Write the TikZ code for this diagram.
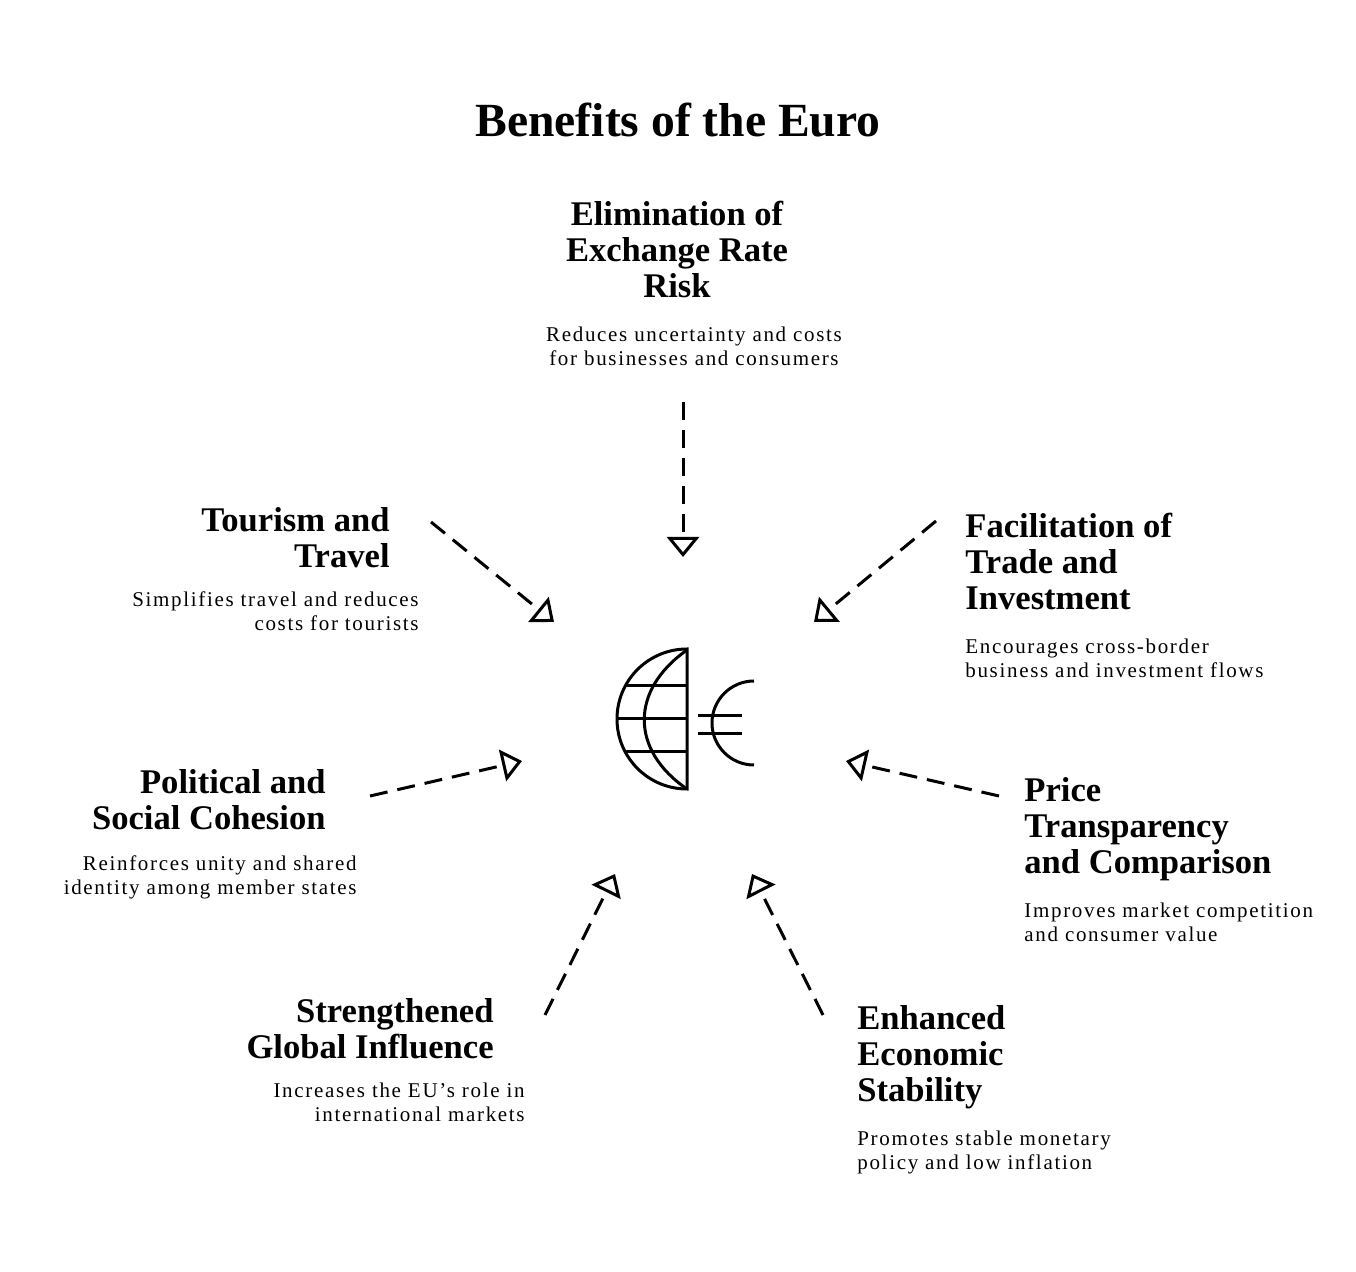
\documentclass[tikz,border=0pt]{standalone}
\usepackage{fontspec}
\setmainfont{Liberation Serif}
\usetikzlibrary{arrows.meta}
\tikzset{
    head/.style = {font=\fontsize{17.3}{18}\selectfont\bfseries, inner sep=0pt},
    desc/.style = {font=\fontsize{10.5}{12}\selectfont\addfontfeature{LetterSpace=8}, inner sep=0pt},
    link/.style = {line width=1.5pt, dash pattern=on 9pt off 5pt, -{Triangle[open,length=10pt,width=16pt,line width=1.5pt]}},
    icon/.style = {line width=1.5pt}
}
\begin{document}
\begin{tikzpicture}[x=0.5pt,y=-0.5pt]
    \useasboundingbox (0,0) rectangle (1356,1272);
    \node [font=\fontsize{23.8}{26}\selectfont\bfseries] (title) at (678,120) {Benefits of the Euro};

    % headings and descriptions
    \node [head, align=center, anchor=north] (exch) at (677,201) {Elimination of\\Exchange Rate\\Risk};
    \node [desc, align=center, anchor=north] (exchd) at (694,327) {Reduces uncertainty and costs\\for businesses and consumers};
    \node [head, align=right, anchor=north east] (tour) at (390,507) {Tourism and\\Travel};
    \node [desc, align=right, anchor=north east] (tourd) at (419,591) {Simplifies travel and reduces\\costs for tourists};
    \node [head, align=left, anchor=north west] (trade) at (965,513) {Facilitation of\\Trade and\\Investment};
    \node [desc, align=left, anchor=north west] (traded) at (965,639) {Encourages cross-border\\business and investment flows};
    \node [head, align=right, anchor=north east] (pol) at (326,769) {Political and\\Social Cohesion};
    \node [desc, align=right, anchor=north east] (pold) at (357,855) {Reinforces unity and shared\\identity among member states};
    \node [head, align=left, anchor=north west] (price) at (1024,777) {Price\\Transparency\\and Comparison};
    \node [desc, align=left, anchor=north west] (priced) at (1024,903) {Improves market competition\\and consumer value};
    \node [head, align=right, anchor=north east] (glob) at (494,998) {Strengthened\\Global Influence};
    \node [desc, align=right, anchor=north east] (globd) at (525,1083) {Increases the EU's role in\\international markets};
    \node [head, align=left, anchor=north west] (stab) at (857,1005) {Enhanced\\Economic\\Stability};
    \node [desc, align=left, anchor=north west] (stabd) at (857,1131) {Promotes stable monetary\\policy and low inflation};

    % globe and euro sign
    \draw [icon] (687,789) arc (90:270:70) -- cycle;
    \draw [icon] (687,650) .. controls (630,690) and (630,750) .. (687,789);
    \draw [icon] (617,719) -- (687,719);
    \draw [icon] (626,686) -- (687,686);
    \draw [icon] (626,752) -- (687,752);
    \draw [icon] (754,765) arc (90:270:42);
    \draw [icon] (698,716) -- (742,716);
    \draw [icon] (698,734) -- (742,734);

    % arrows
    \coordinate (e1) at (683,402);   \coordinate (e2) at (683,557);
    \coordinate (t1) at (431,522);   \coordinate (t2) at (554,622);
    \coordinate (f1) at (936,521);   \coordinate (f2) at (814,622);
    \coordinate (p1) at (370,796);   \coordinate (p2) at (522,761);
    \coordinate (r1) at (999,796);   \coordinate (r2) at (846,761);
    \coordinate (g1) at (545,1015);  \coordinate (g2) at (615,874);
    \coordinate (s1) at (823,1015);  \coordinate (s2) at (752,874);
    \foreach \a/\b in {e1/e2, t1/t2, f1/f2, p1/p2, r1/r2, g1/g2, s1/s2}
        \draw [link] (\a) -- (\b);
\end{tikzpicture}
\end{document}
